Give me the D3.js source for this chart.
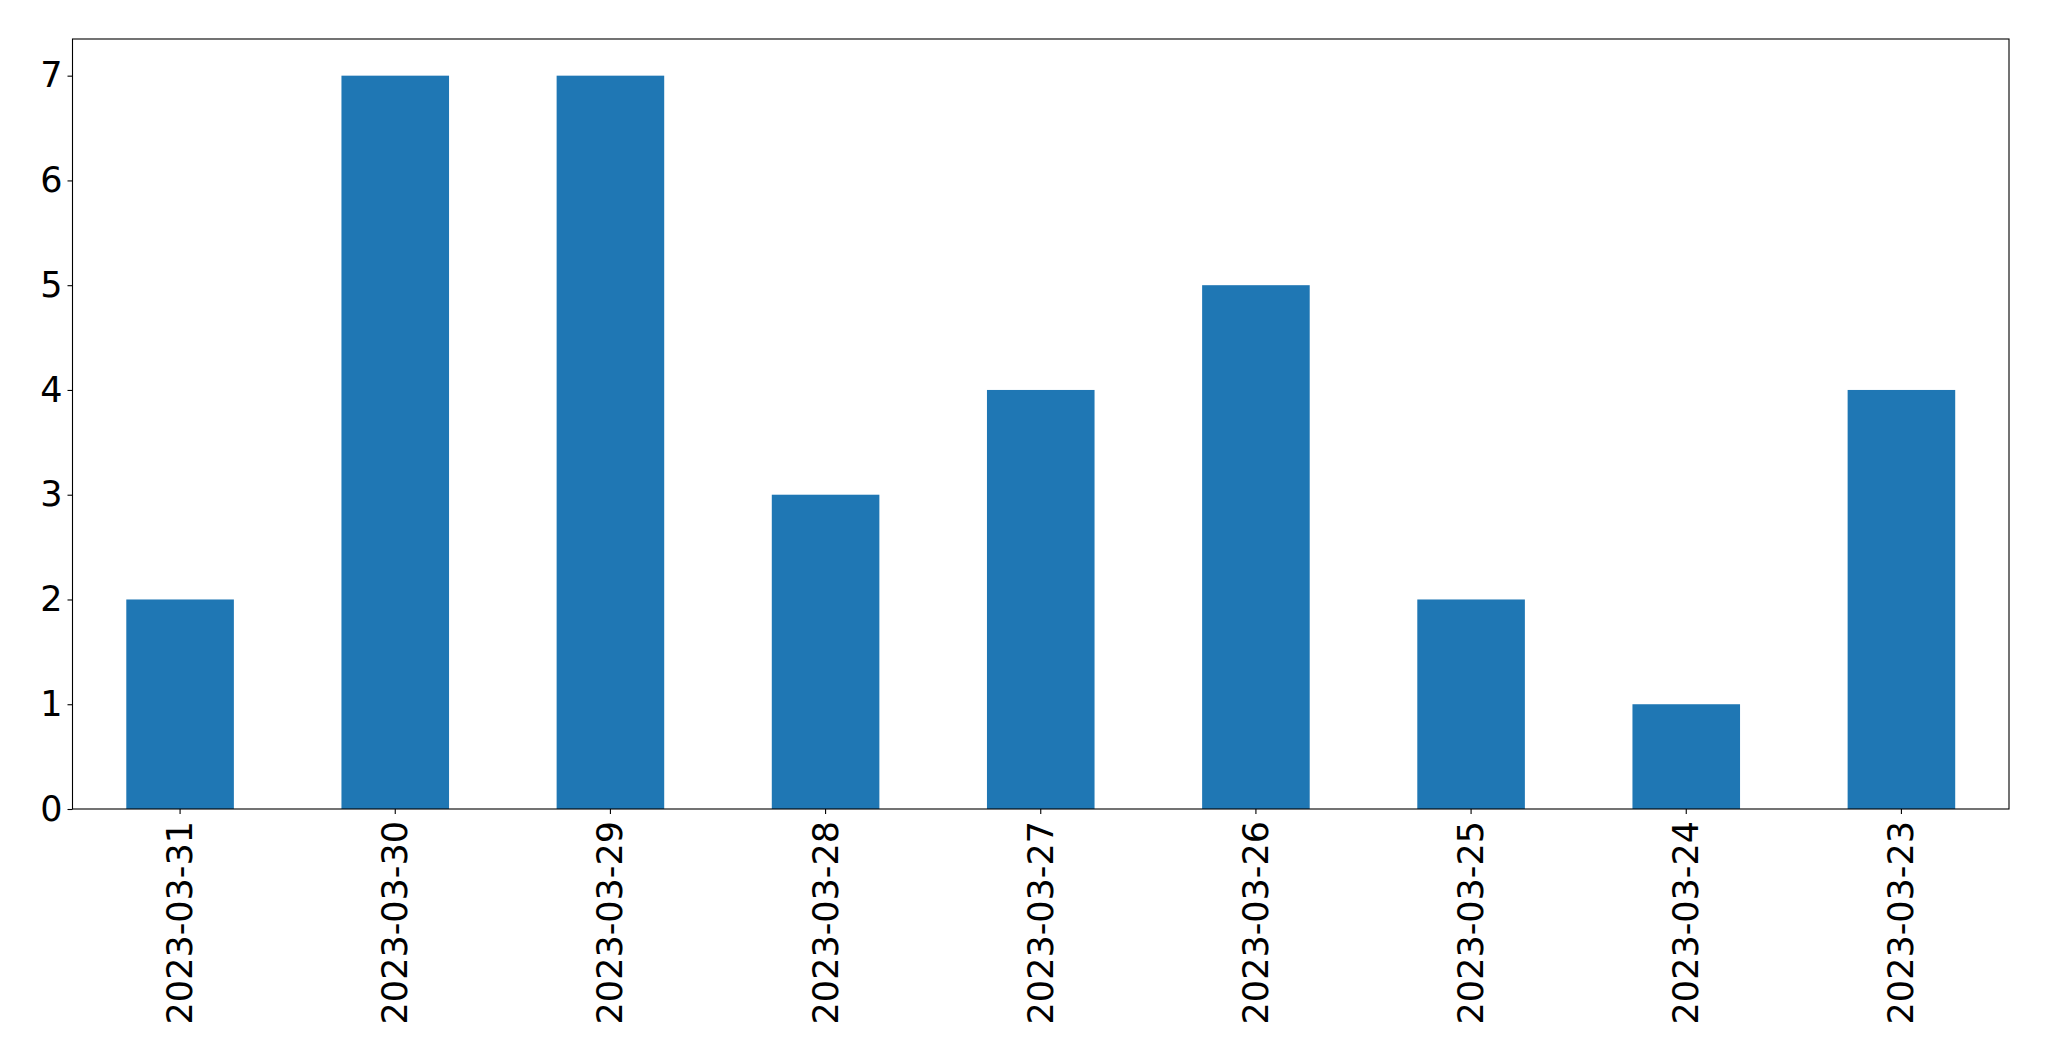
<!DOCTYPE html>
<html>
<head>
<meta charset="utf-8">
<script src="https://cdn.jsdelivr.net/npm/d3@7"></script>
<style>
  body { margin: 0; background: #fff; }
  svg { display: block; }
</style>
</head>
<body>
<svg id="chart"></svg>
<script>
var width = 2049;
var height = 1061;

var dates = ["2023-03-31", "2023-03-30", "2023-03-29", "2023-03-28", "2023-03-27",
             "2023-03-26", "2023-03-25", "2023-03-24", "2023-03-23"];
var counts = [2, 7, 7, 3, 4, 5, 2, 1, 4];
var yTicks = [0, 1, 2, 3, 4, 5, 6, 7];

var margin = {left: 72.5, top: 39, right: 2049 - 2009, bottom: 1061 - 809};
var w = width - margin.left - margin.right;
var h = height - margin.top - margin.bottom;

var svg = d3.select("#chart")
    .attr("width", width)
    .attr("height", height);

var g = svg.append("g")
    .attr("transform", "translate(" + margin.left + "," + margin.top + ")");

var x = d3.scaleBand()
    .domain(dates)
    .range([0, w])
    .paddingInner(0.5)
    .paddingOuter(0.25);

var y = d3.scaleLinear()
    .domain([0, 7 * 1.05])
    .range([h, 0]);

// bars
g.append("g")
    .selectAll("rect")
    .data(dates)
    .enter()
    .append("rect")
    .attr("x", function(d){ return x(d); })
    .attr("y", function(d, i){ return y(counts[i]); })
    .attr("width", x.bandwidth())
    .attr("height", function(d, i){ return y(0) - y(counts[i]); })
    .attr("fill", "#1f77b4");

var font = "'DejaVu Sans', sans-serif";

// y axis
var yAxis = g.append("g")
    .call(d3.axisLeft(y).tickValues(yTicks).tickSize(5).tickPadding(5).tickFormat(d3.format("d")));
yAxis.select(".domain").remove();
yAxis.selectAll("text")
    .style("font-family", font)
    .style("font-size", "35px")
    .attr("fill", "#000");
yAxis.selectAll("line").attr("stroke", "#000").attr("stroke-width", 1.1);

// x axis
var xAxis = g.append("g")
    .attr("transform", "translate(0," + h + ")")
    .call(d3.axisBottom(x).tickSize(5).tickPadding(0));
xAxis.select(".domain").remove();
xAxis.selectAll("line").attr("stroke", "#000").attr("stroke-width", 1.1);
xAxis.selectAll("text")
    .style("font-family", font)
    .style("font-size", "35px")
    .attr("fill", "#000")
    .attr("y", 0)
    .attr("dy", null)
    .attr("text-anchor", "end")
    .attr("dominant-baseline", "central")
    .attr("transform", "translate(0,12) rotate(-90)");

// frame
g.append("rect")
    .attr("x", 0)
    .attr("y", 0)
    .attr("width", w)
    .attr("height", h)
    .attr("fill", "none")
    .attr("stroke", "#000")
    .attr("stroke-width", 1.1);
</script>
</body>
</html>
